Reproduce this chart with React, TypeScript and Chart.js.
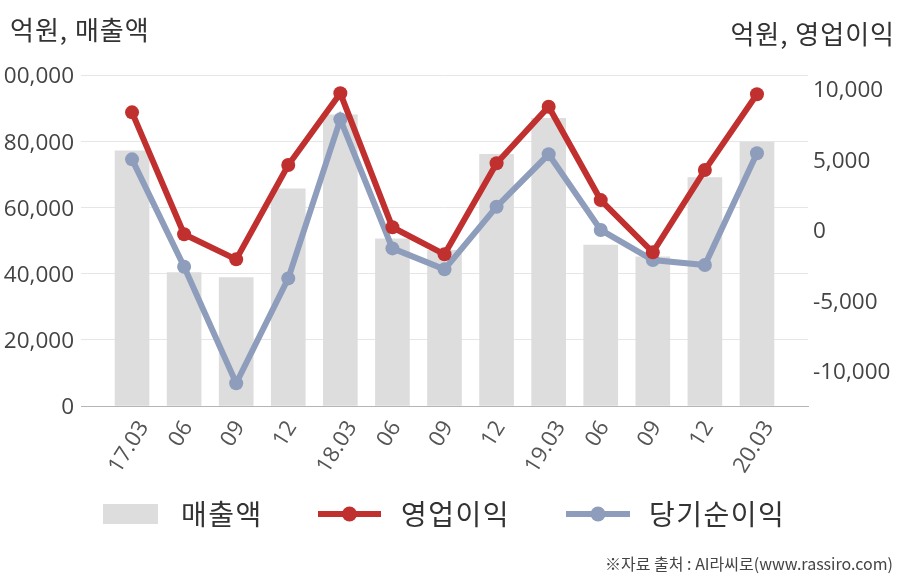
import React, { useEffect, useRef } from 'react';
import { Chart, registerables } from 'chart.js';

Chart.register(...registerables);

const KFONT = '"Noto Sans CJK KR", "Noto Sans", sans-serif';
const NFONT = '"Open Sans", "Noto Sans CJK KR", sans-serif';

// ---- data ----
const categories = ['17.03', '06', '09', '12', '18.03', '06', '09', '12', '19.03', '06', '09', '12', '20.03'];
const sales = [77100, 40300, 38800, 65600, 88000, 50500, 47000, 76000, 86900, 48600, 45100, 69000, 79700];
const operatingProfit = [8350, -310, -2090, 4610, 9700, 190, -1730, 4730, 8750, 2120, -1590, 4250, 9630];
const netProfit = [5010, -2610, -10890, -3440, 7850, -1310, -2800, 1650, 5370, 0, -2140, -2490, 5440];
const leftTicks = [0, 20000, 40000, 60000, 80000, 100000];
const rightTicks = [-10000, -5000, 0, 5000, 10000];
const seriesNames = ['매출액', '영업이익', '당기순이익'];
const leftTitle = '억원, 매출액';
const rightTitle = '억원, 영업이익';
const sourceText = '※자료 출처 : AI라씨로(www.rassiro.com)';

const BAR_COLOR = '#dddddd';
const RED = '#c0302f';
const BLUE = '#8e9dbb';
const TEXT = '#444';

const fmt = (v: number) => v.toLocaleString('en-US');

export default function App() {
  const ref = useRef<HTMLCanvasElement>(null);

  useEffect(() => {
    if (!ref.current) return;

    const overlay = {
      id: 'overlay',
      afterDraw(chart: any) {
        const ctx = chart.ctx as any;
        ctx.save();

        // rotated category labels, centred on each tick
        const xs = chart.scales.x;
        const theta = (58 * Math.PI) / 180;
        ctx.font = `22px ${NFONT}`;
        ctx.fillStyle = '#555';
        ctx.textAlign = 'center';
        ctx.textBaseline = 'middle';
        categories.forEach((lab, i) => {
          const px = xs.getPixelForValue(i);
          const w = ctx.measureText(lab).width;
          const h = 16;
          const bh = w * Math.sin(theta) + h * Math.cos(theta);
          ctx.save();
          ctx.translate(px - 3, xs.top + 13 + bh / 2);
          ctx.rotate(-theta);
          ctx.fillText(lab, 0, 0);
          ctx.restore();
        });

        // axis titles
        ctx.fillStyle = '#333';
        ctx.font = `26px ${KFONT}`;
        ctx.letterSpacing = '1px';
        ctx.textBaseline = 'middle';
        ctx.textAlign = 'left';
        ctx.fillText(leftTitle, 10, 30);
        ctx.textAlign = 'right';
        ctx.fillText(rightTitle, 895, 34);

        // legend
        const ds = chart.data.datasets;
        const ly = 514;
        ctx.font = `28px ${KFONT}`;
        ctx.letterSpacing = '1.5px';
        ctx.textAlign = 'left';
        ctx.fillStyle = ds[0].backgroundColor;
        ctx.fillRect(103, 504, 55, 20);
        ctx.fillStyle = '#333';
        ctx.fillText(ds[0].label, 181, ly);

        const drawLineItem = (x0: number, x1: number, color: string, label: string, tx: number) => {
          ctx.strokeStyle = color;
          ctx.lineWidth = 6;
          ctx.beginPath();
          ctx.moveTo(x0, ly);
          ctx.lineTo(x1, ly);
          ctx.stroke();
          ctx.fillStyle = color;
          ctx.beginPath();
          ctx.arc((x0 + x1) / 2, ly, 7.5, 0, Math.PI * 2);
          ctx.fill();
          ctx.fillStyle = '#333';
          ctx.fillText(label, tx, ly);
        };
        drawLineItem(318, 381, ds[1].borderColor, ds[1].label, 401);
        drawLineItem(566, 630, ds[2].borderColor, ds[2].label, 649);

        // source
        ctx.letterSpacing = '0px';
        ctx.font = `16px ${KFONT}`;
        ctx.fillStyle = '#444';
        ctx.textAlign = 'right';
        ctx.fillText(sourceText, 893, 564);
        ctx.restore();
      },
    };

    const chart = new Chart(ref.current, {
      type: 'bar',
      data: {
        datasets: [
          {
            type: 'bar',
            label: seriesNames[0],
            data: sales.map((v, i) => ({ x: i, y: v })),
            yAxisID: 'y',
            backgroundColor: BAR_COLOR,
            borderWidth: 0,
            barThickness: 34,
            order: 3,
          } as any,
          {
            type: 'line',
            label: seriesNames[1],
            data: operatingProfit.map((v, i) => ({ x: i, y: v })),
            yAxisID: 'y2',
            borderColor: RED,
            backgroundColor: RED,
            pointBackgroundColor: RED,
            pointBorderColor: RED,
            borderWidth: 6,
            pointRadius: 7,
            pointBorderWidth: 0,
            tension: 0,
            order: 1,
          } as any,
          {
            type: 'line',
            label: seriesNames[2],
            data: netProfit.map((v, i) => ({ x: i, y: v })),
            yAxisID: 'y2',
            borderColor: BLUE,
            backgroundColor: BLUE,
            pointBackgroundColor: BLUE,
            pointBorderColor: BLUE,
            borderWidth: 6,
            pointRadius: 7,
            pointBorderWidth: 0,
            tension: 0,
            order: 2,
          } as any,
        ],
      },
      options: {
        responsive: false,
        animation: false,
        devicePixelRatio: 1,
        layout: { padding: { top: 75, left: 0, right: 0, bottom: 0 } },
        plugins: {
          legend: { display: false },
          tooltip: { enabled: false },
        },
        scales: {
          x: {
            type: 'linear',
            offset: false,
            min: -0.98,
            max: 12.98,
            afterBuildTicks: (s: any) => {
              s.ticks = categories.map((_, i) => ({ value: i }));
            },
            afterFit: (s: any) => {
              s.height = 174;
            },
            grid: { display: false, drawTicks: false, offset: false },
            border: { display: true, color: '#b5b5b5', width: 1 },
            ticks: { display: false },
          },
          y: {
            position: 'left',
            min: leftTicks[0],
            max: leftTicks[leftTicks.length - 1],
            afterBuildTicks: (s: any) => {
              s.ticks = leftTicks.map((v) => ({ value: v }));
            },
            afterFit: (s: any) => {
              s.width = 81;
            },
            grid: { color: '#e6e6e6', drawTicks: false, lineWidth: 1 },
            border: { display: false },
            ticks: {
              padding: 7,
              labelOffset: 2,
              color: TEXT,
              font: { family: NFONT, size: 22.5 },
              callback: (v: any) => fmt(v as number),
            },
          },
          y2: {
            position: 'right',
            min: -12500,
            max: 11000,
            afterBuildTicks: (s: any) => {
              s.ticks = rightTicks.map((v) => ({ value: v }));
            },
            afterFit: (s: any) => {
              s.width = 100;
            },
            grid: { display: false, drawTicks: false },
            border: { display: false },
            ticks: {
              padding: 5,
              labelOffset: 2,
              color: TEXT,
              font: { family: NFONT, size: 22.5 },
              callback: (v: any) => fmt(v as number),
            },
          },
        },
      } as any,
      plugins: [overlay],
    });

    return () => chart.destroy();
  }, []);

  return (
    <div style={{ position: 'absolute', left: 0, top: 0, width: 908, height: 580, background: '#fff' }}>
      <canvas ref={ref} width={908} height={580} style={{ display: 'block' }} />
    </div>
  );
}
